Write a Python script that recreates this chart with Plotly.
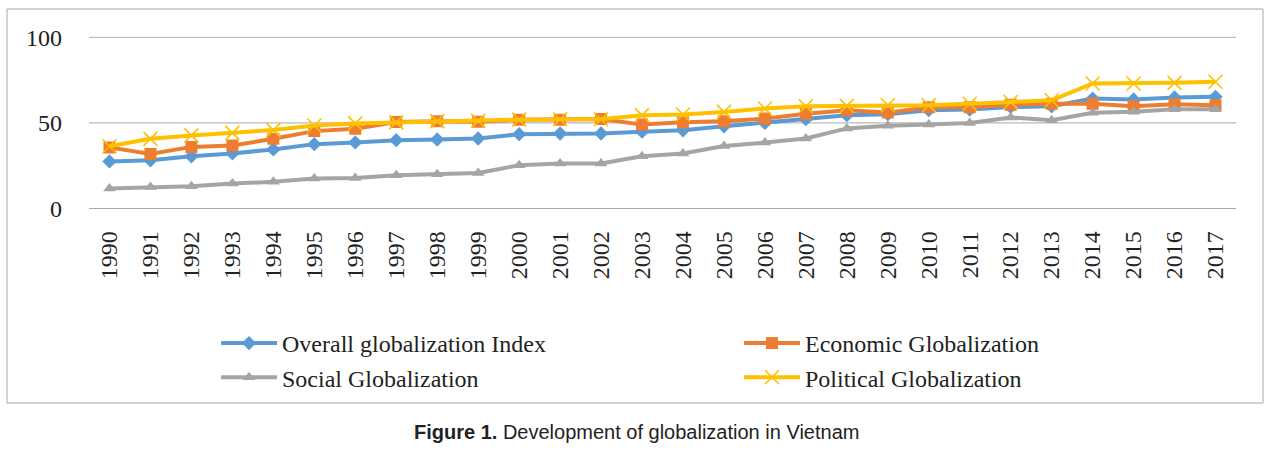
import plotly.graph_objects as go

# Globalization indices for Vietnam
YEARS = [str(y) for y in range(1990, 2018)]
OVERALL = [27.5, 28.2, 30.5, 32.2, 34.5, 37.6, 38.6, 39.9, 40.3, 40.9, 43.4, 43.8, 43.8, 44.9,
           45.7, 48.0, 50.0, 52.2, 54.5, 55.1, 57.4, 57.8, 59.3, 59.7, 64.2, 63.7, 64.9, 65.2]
ECONOMIC = [35.7, 31.8, 36.0, 36.8, 40.7, 45.2, 46.6, 50.5, 51.0, 50.6, 51.9, 51.9, 52.3, 49.0,
            50.4, 51.0, 52.5, 55.4, 57.4, 56.0, 59.2, 59.2, 60.6, 61.2, 61.2, 59.7, 60.9, 60.3]
SOCIAL = [11.7, 12.6, 13.0, 14.6, 15.6, 17.5, 17.9, 19.5, 20.0, 20.8, 25.3, 26.3, 26.3, 30.5,
          32.1, 36.5, 38.5, 40.9, 46.8, 48.3, 49.1, 50.0, 53.2, 51.6, 55.9, 56.5, 57.9, 57.9]
POLITICAL = [36.4, 40.7, 42.7, 44.2, 45.8, 48.5, 49.7, 50.3, 51.0, 51.2, 51.9, 52.1, 52.1, 54.5,
             54.9, 56.4, 58.4, 59.7, 59.9, 60.3, 60.3, 61.2, 62.2, 63.2, 73.0, 73.0, 73.4, 74.0]
Y_TICKS = [0, 50, 100]

W, H = 1272, 456
SERIF = "Liberation Serif, Times New Roman, serif"
SANS = "Liberation Sans, Arial, sans-serif"
GRID = "#A6A6A6"

# (name, values, colour, marker, which legend column)
SERIES = [
    ("Overall globalization Index", OVERALL, "#5B9BD5", dict(symbol="diamond", size=11), "legend"),
    ("Economic Globalization", ECONOMIC, "#ED7D31", dict(symbol="square", size=12), "legend2"),
    ("Social Globalization", SOCIAL, "#A5A5A5", dict(symbol="triangle-up", size=11), "legend"),
    ("Political Globalization", POLITICAL, "#FFC000",
     dict(symbol="x-thin", size=14, line=dict(width=1.6, color="#FFC000")), "legend2"),
]

X0, X1 = 89, 1236  # plot area, px


def px_x(p):
    return p / W


def px_y(p):
    return 1 - p / H


fig = go.Figure()
for name, values, color, marker, legend in SERIES:
    fig.add_trace(go.Scatter(
        x=YEARS,
        y=values,
        name=name,
        mode="lines+markers",
        line=dict(color=color, width=4),
        marker=dict(color=color, **marker),
        legend=legend,
    ))

legend_style = dict(
    orientation="v",
    xanchor="left",
    yanchor="top",
    itemwidth=56,
    tracegroupgap=0,
    font=dict(family=SERIF, size=24),
    bgcolor="rgba(0,0,0,0)",
)

# horizontal gridlines as shapes, so the ones at 0 and 100 are drawn too
grid_shapes = [
    dict(type="line", xref="paper", yref="y", x0=px_x(X0), x1=px_x(X1), y0=v, y1=v,
         line=dict(color=GRID, width=1), layer="below")
    for v in Y_TICKS
]
border = dict(
    type="rect", xref="paper", yref="paper",
    x0=px_x(7), x1=px_x(1263), y0=px_y(403), y1=px_y(9),
    line=dict(color=GRID, width=1),
)

fig.update_layout(
    width=W,
    height=H,
    margin=dict(l=0, r=0, t=0, b=0, autoexpand=False),
    paper_bgcolor="white",
    plot_bgcolor="white",
    font=dict(family=SERIF, size=24, color="#222222"),
    xaxis=dict(
        type="category",
        domain=[px_x(X0), px_x(X1)],
        range=[-0.5, 27.5],
        tickangle=-90,
        showgrid=False,
        showline=False,
        zeroline=False,
        ticks="",
        ticklabelstandoff=16,
        tickfont=dict(family=SERIF, size=24),
    ),
    yaxis=dict(
        domain=[px_y(209.4), px_y(36.4)],
        range=[-0.5, 100.5],
        tickvals=Y_TICKS,
        showgrid=False,
        zeroline=False,
        showline=False,
        ticks="",
        ticklabelstandoff=26,
        tickfont=dict(family=SERIF, size=24),
    ),
    legend=dict(x=px_x(216), y=px_y(321), **legend_style),
    legend2=dict(x=px_x(739), y=px_y(321), **legend_style),
    shapes=grid_shapes + [border],
    annotations=[dict(
        text="<b>Figure 1.</b> Development of globalization in Vietnam",
        xref="paper", yref="paper",
        x=0.5, y=px_y(432),
        xanchor="center", yanchor="middle",
        showarrow=False,
        font=dict(family=SANS, size=20, color="#222222"),
    )],
)

fig.write_html(
    "out.html",
    config={"displayModeBar": False},
    post_script="document.body.style.margin='0';",
)
